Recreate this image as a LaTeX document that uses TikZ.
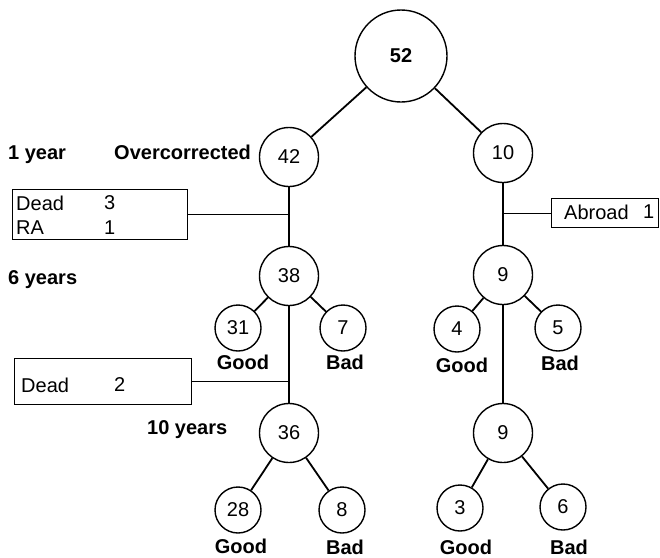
\documentclass[tikz,border=0pt]{standalone}
\usepackage{fontspec}
\setmainfont{Liberation Sans}
\begin{document}
\begin{tikzpicture}[x=1pt,y=-1pt,
  every node/.style={font=\fontsize{20}{24}\selectfont},
  rootc/.style={circle,draw,line width=1.4pt,minimum size=92pt,inner sep=0pt,font=\fontsize{20}{24}\selectfont\bfseries},
  midc/.style={circle,draw,line width=1.4pt,minimum size=59pt,inner sep=0pt},
  leafc/.style={circle,draw,line width=1.4pt,minimum size=46pt,inner sep=0pt},
  lbl/.style={inner sep=0pt,font=\fontsize{20}{24}\selectfont\bfseries},
  side/.style={inner sep=0pt,anchor=base west,font=\fontsize{20}{24}\selectfont\bfseries},
  txt/.style={inner sep=0pt,anchor=west},
  conn/.style={line width=1.8pt},
  thinconn/.style={line width=1.3pt},
  boxr/.style={draw,line width=1.3pt,rectangle,anchor=north west,inner sep=0pt}
]
\useasboundingbox (0,0) rectangle (660,557);

% circles
\node[rootc] (n52) at (401,56) {52};
\node[midc] (n42) at (289,157) {42};
\node[midc] (n10) at (503,153) {10};
\node[midc] (n38) at (289,276) {38};
\node[midc] (n9a) at (503,275) {9};
\node[leafc] (n31) at (238,328) {31};
\node[leafc] (n7) at (343,328) {7};
\node[leafc] (n4) at (457,329) {4};
\node[leafc] (n5) at (558,328) {5};
\node[midc] (n36) at (289,433) {36};
\node[midc] (n9b) at (503,433) {9};
\node[leafc] (n28) at (238,510) {28};
\node[leafc] (n8) at (342,510) {8};
\node[leafc] (n3) at (460,508) {3};
\node[leafc] (n6) at (563,507) {6};

% outcome labels
\node[lbl] (g1) at (243,362) {Good};
\node[lbl] (b1l) at (345,362) {Bad};
\node[lbl] (g2) at (462,365) {Good};
\node[lbl] (b2l) at (560,363) {Bad};
\node[lbl] (g3) at (241,546) {Good};
\node[lbl] (b3l) at (345,547) {Bad};
\node[lbl] (g4) at (466,547) {Good};
\node[lbl] (b4l) at (569,547) {Bad};

% side labels
\node[side] (y1) at (8,159) {1 year};
\node[side] (oc) at (114,159) {Overcorrected};
\node[side] (y6) at (8,284) {6 years};
\node[side] (y10) at (147,434) {10 years};

% boxes
\node[boxr,minimum width=175pt,minimum height=50pt] (bx1) at (12,189) {};
\node[txt] (bx1a) at (16,203) {Dead};
\node[txt] (bx1b) at (104,203) {3};
\node[txt] (bx1c) at (16,228) {RA};
\node[txt] (bx1d) at (104,228) {1};

\node[boxr,minimum width=177pt,minimum height=46pt] (bx2) at (14,358) {};
\node[txt] (bx2a) at (21,385) {Dead};
\node[txt] (bx2b) at (114,385) {2};

\node[boxr,minimum width=107pt,minimum height=29pt] (bx3) at (551,198) {};
\node[txt] (bx3a) at (564,212) {Abroad};
\node[txt] (bx3b) at (643,212) {1};

% connectors
\draw[conn] (n52) -- (n42);
\draw[conn] (n52) -- (n10);
\draw[conn] (n42) -- (n38);
\draw[conn] (n10) -- (n9a);
\draw[conn] (n38) -- (n31);
\draw[conn] (n38) -- (n7);
\draw[conn] (n9a) -- (n4);
\draw[conn] (n9a) -- (n5);
\draw[conn] (n38) -- (n36);
\draw[conn] (n9a) -- (n9b);
\draw[conn] (n36) -- (n28);
\draw[conn] (n36) -- (n8);
\draw[conn] (n9b) -- (n3);
\draw[conn] (n9b) -- (n6);

\draw[thinconn] (bx1.east) -- (bx1.east -| n42.center);
\draw[thinconn] (bx2.east) -- (bx2.east -| n38.center);
\draw[thinconn] (bx3.west) -- (bx3.west -| n10.center);
\end{tikzpicture}
\end{document}
